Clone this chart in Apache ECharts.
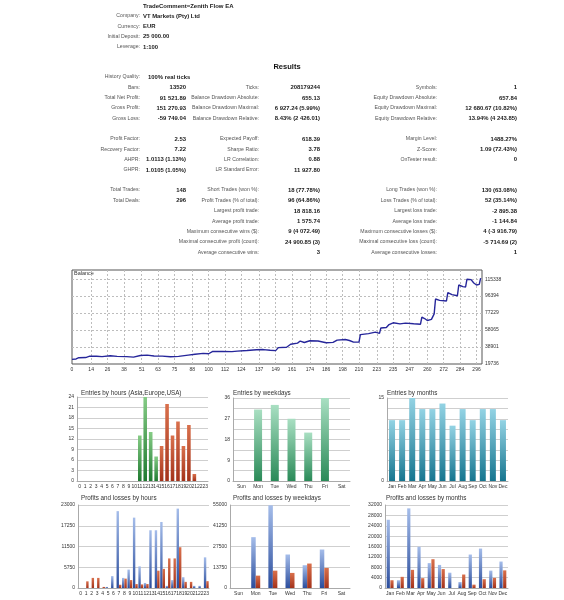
<!DOCTYPE html>
<html><head><meta charset="utf-8">
<script src="https://cdn.jsdelivr.net/npm/echarts@6/dist/echarts.min.js"></script>
<style>html,body{margin:0;padding:0;background:#fff}#c{width:564px;height:600px}</style>
</head><body><div id="c"></div>
<script>
// ---------- header / report text ----------
const reportTitle = 'TradeComment=Zenith Flow EA';
const headerLabels = ['Company:', 'Currency:', 'Initial Deposit:', 'Leverage:'];
const headerValues = ['VT Markets (Pty) Ltd', 'EUR', '25 000.00', '1:100'];

const col1Labels = ['Bars:', 'Total Net Profit:', 'Gross Profit:', 'Gross Loss:', 'Profit Factor:', 'Recovery Factor:', 'AHPR:', 'GHPR:', 'Total Trades:', 'Total Deals:'];
const col1Values = ['13520', '91 521.89', '151 270.93', '-59 749.04', '2.53', '7.22', '1.0113 (1.13%)', '1.0105 (1.05%)', '148', '296'];
const col1Rows = [1, 2, 3, 4, 5, 6, 7, 8, 9, 10];

const col2Labels = ['Ticks:', 'Balance Drawdown Absolute:', 'Balance Drawdown Maximal:', 'Balance Drawdown Relative:', 'Expected Payoff:', 'Sharpe Ratio:', 'LR Correlation:', 'LR Standard Error:', 'Short Trades (won %):', 'Profit Trades (% of total):', 'Largest profit trade:', 'Average profit trade:', 'Maximum consecutive wins ($):', 'Maximal consecutive profit (count):', 'Average consecutive wins:'];
const col2Values = ['208179244', '655.13', '6 927.24 (5.99%)', '8.43% (2 426.01)', '618.39', '3.78', '0.88', '11 927.80', '18 (77.78%)', '96 (64.86%)', '18 818.16', '1 575.74', '9 (4 072.49)', '24 900.85 (3)', '3'];
const col2Rows = [1, 2, 3, 4, 5, 6, 7, 8, 9, 10, 11, 12, 13, 14, 15];

const col3Labels = ['Symbols:', 'Equity Drawdown Absolute:', 'Equity Drawdown Maximal:', 'Equity Drawdown Relative:', 'Margin Level:', 'Z-Score:', 'OnTester result:', 'Long Trades (won %):', 'Loss Trades (% of total):', 'Largest loss trade:', 'Average loss trade:', 'Maximum consecutive losses ($):', 'Maximal consecutive loss (count):', 'Average consecutive losses:'];
const col3Values = ['1', '657.84', '12 680.67 (10.82%)', '13.94% (4 243.85)', '1488.27%', '1.09 (72.43%)', '0', '130 (63.08%)', '52 (35.14%)', '-2 895.38', '-1 144.84', '4 (-3 916.79)', '-5 714.69 (2)', '1'];
const col3Rows = [1, 2, 3, 4, 5, 6, 7, 9, 10, 11, 12, 13, 14, 15];

// ---------- balance curve ----------
const balanceTrade = [0, 3, 5, 10, 13, 18, 22, 28, 33, 40, 45, 50, 55, 60, 66, 72, 78, 85, 90, 96, 100, 103, 110, 117, 121, 128, 135, 140, 145, 149, 151, 157, 160, 165, 167, 170, 174, 180, 186, 191, 194, 200, 203, 206, 210, 211, 217, 222, 225, 226, 230, 232, 235, 240, 244, 250, 255, 256, 258, 260, 263, 265, 266, 269, 274, 275, 278, 282, 283, 286, 288, 289, 292, 294, 296, 298, 299];
const balanceValue = [25000, 25400, 26800, 27000, 28600, 28400, 28100, 29000, 28300, 28000, 27500, 29300, 29700, 28800, 28600, 27900, 28300, 29800, 30800, 31700, 31300, 34000, 33900, 33700, 34300, 34900, 35800, 36000, 35200, 34800, 38200, 38600, 42000, 43300, 45600, 44000, 45900, 45600, 43700, 44100, 46600, 47400, 46200, 44400, 44500, 52900, 54000, 55600, 54200, 60400, 60800, 64200, 66200, 65000, 65800, 65100, 64600, 72500, 71000, 68800, 70000, 76300, 93000, 91500, 90800, 100200, 98000, 96700, 108800, 107000, 106600, 115300, 114800, 111000, 108800, 109500, 116522];
const balanceXTicks = [0, 14, 26, 38, 51, 63, 75, 88, 100, 112, 124, 137, 149, 161, 174, 186, 198, 210, 223, 235, 247, 260, 272, 284, 296];
const balanceYTicks = [19736, 38901, 58065, 77229, 96394, 115338];

// ---------- entries ----------
const hours = ['0','1','2','3','4','5','6','7','8','9','10','11','12','13','14','15','16','17','18','19','20','21','22','23'];
const entriesEurope = [0,0,0,0,0,0,0,0,0,0,0,13,24,14,7,0,0,0,0,0,0,0,0,0];
const entriesUSA    = [0,0,0,0,0,0,0,0,0,0,0,0,0,0,0,10,22,13,17,10,16,2,0,0];
const weekdays = ['Sun','Mon','Tue','Wed','Thu','Fri','Sat'];
const entriesWeekdays = [0, 31, 33, 27, 21, 36, 0];
const months = ['Jan','Feb','Mar','Apr','May','Jun','Jul','Aug','Sep','Oct','Nov','Dec'];
const entriesMonths = [11, 11, 15, 13, 13, 14, 10, 13, 11, 13, 13, 11];

// ---------- profits / losses ----------
const plHoursProfit = [0,0,0,0,0,300,3300,21300,2800,5100,19500,6000,1400,16000,16000,18300,600,2200,22000,3000,0,600,600,8500];
const plHoursLoss   = [0,1850,2800,2800,300,0,0,900,2600,2200,1100,1000,1100,0,4800,5300,8200,8200,11300,1700,1700,0,0,1900];
const plWeekProfit = [0, 33700, 54800, 22200, 15100, 25500, 0];
const plWeekLoss   = [0, 8200, 11500, 10000, 16200, 13300, 0];
const plMonthProfit = [26300, 3000, 30700, 15900, 9600, 8900, 5900, 2300, 12900, 15200, 6700, 10200];
const plMonthLoss   = [3000, 4300, 7000, 3800, 11100, 7300, 0, 5200, 1300, 3400, 3900, 6800];

// ---------- rendering ----------
const FONT = 'Liberation Sans, Arial, sans-serif';
const rowY = [77, 87.5, 98, 108, 118.5, 139, 149.3, 159.6, 170, 190, 200.5, 211, 221.3, 231.6, 242, 252.3];
const g = [];
function txt(t, x, y, opt) {
  opt = opt || {};
  g.push({type: 'text', silent: true, style: {
    text: t, x: x, y: y, fill: opt.fill || '#555',
    font: (opt.bold ? 'bold ' : '') + (opt.size || 5.2) + 'px ' + FONT,
    align: opt.align || 'right', verticalAlign: 'middle'
  }});
}
const VAL = {bold: true, fill: '#1a1a1a', size: 5.9};
// header
txt(reportTitle, 143, 6, {bold: true, fill: '#1a1a1a', size: 6, align: 'left'});
headerLabels.forEach((l, i) => {
  txt(l, 140, 16 + i * 10.3);
  txt(headerValues[i], 143, 16 + i * 10.3, Object.assign({}, VAL, {align: 'left'}));
});
txt('Results', 287, 67, {bold: true, fill: '#111', size: 7.5, align: 'center'});
txt('History Quality:', 140, rowY[0]);
txt('100% real ticks', 148, rowY[0], Object.assign({}, VAL, {align: 'left'}));
col1Labels.forEach((l, i) => { txt(l, 140, rowY[col1Rows[i]]); txt(col1Values[i], 186, rowY[col1Rows[i]], VAL); });
col2Labels.forEach((l, i) => { txt(l, 259, rowY[col2Rows[i]]); txt(col2Values[i], 320, rowY[col2Rows[i]], VAL); });
col3Labels.forEach((l, i) => { txt(l, 437, rowY[col3Rows[i]]); txt(col3Values[i], 517, rowY[col3Rows[i]], VAL); });
txt('Balance', 74, 273.5, {fill: '#333', size: 5.5, align: 'left'});

const titles = [
  ['Entries by hours (Asia,Europe,USA)', 81, 393],
  ['Entries by weekdays', 233, 393],
  ['Entries by months', 387, 393],
  ['Profits and losses by hours', 81, 498],
  ['Profits and losses by weekdays', 233, 498],
  ['Profits and losses by months', 386, 498]
];
titles.forEach(t => txt(t[0], t[1], t[2], {fill: '#333', size: 6.3, align: 'left'}));

function grad(top, bottom) {
  return {type: 'linear', x: 0, y: 0, x2: 0, y2: 1, colorStops: [{offset: 0, color: top}, {offset: 1, color: bottom}]};
}
const GREEN_H = grad('#86cc86', '#1f7a30');
const RED = grad('#d9704c', '#a3321a');
const GREEN_W = grad('#a9dfc2', '#2a8a58');
const TEAL = grad('#93d3e4', '#16758f');
const BLUE = grad('#a5bdea', '#2b4d9c');

const grids = [
  {left: 72, top: 270, width: 410, height: 94},
  {left: 77, top: 397, width: 131, height: 84},
  {left: 233, top: 398, width: 117, height: 83},
  {left: 387, top: 398, width: 121, height: 83},
  {left: 78, top: 505, width: 131, height: 83},
  {left: 230, top: 505, width: 120, height: 83},
  {left: 385, top: 505, width: 123, height: 83}
];
grids[0].show = true; grids[0].borderColor = '#555'; grids[0].borderWidth = 1;

const smallLbl = {fontSize: 5, color: '#333', fontFamily: FONT, margin: 3};
const splitSolid = {show: true, lineStyle: {color: '#cfcfcf', width: 1}};
function catX(idx, data) {
  return {type: 'category', gridIndex: idx, data: data, axisTick: {show: false},
    axisLine: {lineStyle: {color: '#aaa'}}, axisLabel: Object.assign({interval: 0}, smallLbl)};
}
function valY(idx, max, interval, fmt) {
  return {type: 'value', gridIndex: idx, min: 0, max: max, interval: interval,
    axisLine: {show: true, lineStyle: {color: '#aaa'}}, axisTick: {show: false},
    splitLine: splitSolid, axisLabel: Object.assign({formatter: fmt || (v => String(v))}, smallLbl)};
}

const xAxes = [
  {type: 'value', gridIndex: 0, min: 0, max: 300,
    axisLine: {show: false}, axisTick: {show: false},
    splitLine: {show: false},
    axisLabel: Object.assign({}, smallLbl, {customValues: balanceXTicks, margin: 3, formatter: v => String(v)}),
  },
  catX(1, hours), catX(2, weekdays), catX(3, months),
  catX(4, hours), catX(5, weekdays), catX(6, months)
];
const yAxes = [
  {type: 'value', gridIndex: 0, position: 'right', min: 19736, max: 125700,
    axisLine: {show: false}, axisTick: {show: false}, splitLine: {show: false},
    axisLabel: Object.assign({}, smallLbl, {customValues: balanceYTicks, margin: 3, formatter: v => String(v)})},
  valY(1, 24, 3),
  valY(2, 36, 4.5, v => (v % 9 === 0 ? String(v) : '')),
  valY(3, 15, 1.875, v => (v === 0 || v === 15 ? String(v) : '')),
  valY(4, 23000, 5750),
  valY(5, 55000, 13750),
  valY(6, 32000, 4000)
];

const balGridLines = balanceXTicks.slice(1).map(v => ({xAxis: v})).concat(balanceYTicks.slice(1).map(v => ({yAxis: v})));

const series = [
  {type: 'line', xAxisIndex: 0, yAxisIndex: 0, data: balanceTrade.map((t, i) => [t, balanceValue[i]]),
    symbol: 'none', lineStyle: {color: '#26269a', width: 1.4}, silent: true, z: 5,
    markLine: {silent: true, symbol: 'none', label: {show: false},
      lineStyle: {type: [2, 2], color: '#bdbdbd', width: 1}, data: balGridLines}},
  {type: 'bar', xAxisIndex: 1, yAxisIndex: 1, stack: 'h', data: entriesEurope, barWidth: 3.6, itemStyle: {color: GREEN_H}},
  {type: 'bar', xAxisIndex: 1, yAxisIndex: 1, stack: 'h', data: entriesUSA, barWidth: 3.6, itemStyle: {color: RED}},
  {type: 'bar', xAxisIndex: 2, yAxisIndex: 2, data: entriesWeekdays, barWidth: 8, itemStyle: {color: GREEN_W}},
  {type: 'bar', xAxisIndex: 3, yAxisIndex: 3, data: entriesMonths, barWidth: 6, itemStyle: {color: TEAL}},
  {type: 'bar', xAxisIndex: 4, yAxisIndex: 4, data: plHoursProfit, barWidth: 2.4, barGap: '0%', itemStyle: {color: BLUE}},
  {type: 'bar', xAxisIndex: 4, yAxisIndex: 4, data: plHoursLoss, barWidth: 2.4, barGap: '0%', itemStyle: {color: RED}},
  {type: 'bar', xAxisIndex: 5, yAxisIndex: 5, data: plWeekProfit, barWidth: 4.5, barGap: '0%', itemStyle: {color: BLUE}},
  {type: 'bar', xAxisIndex: 5, yAxisIndex: 5, data: plWeekLoss, barWidth: 4.5, barGap: '0%', itemStyle: {color: RED}},
  {type: 'bar', xAxisIndex: 6, yAxisIndex: 6, data: plMonthProfit, barWidth: 3.2, barGap: '15%', itemStyle: {color: BLUE}},
  {type: 'bar', xAxisIndex: 6, yAxisIndex: 6, data: plMonthLoss, barWidth: 3.2, barGap: '15%', itemStyle: {color: RED}}
];

const chart = echarts.init(document.getElementById('c'), null, {renderer: 'canvas'});
chart.setOption({
  animation: false,
  backgroundColor: '#fff',
  grid: grids,
  xAxis: xAxes,
  yAxis: yAxes,
  series: series,
  graphic: g
});
</script></body></html>
